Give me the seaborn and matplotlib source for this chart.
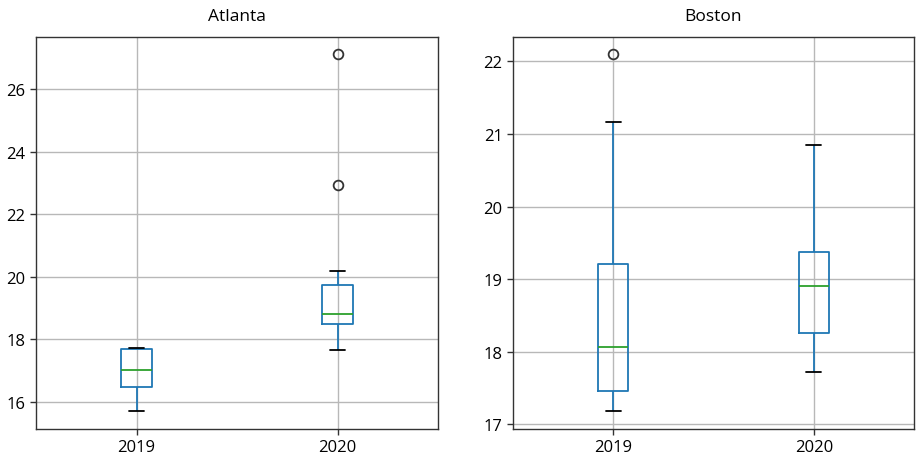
import matplotlib
matplotlib.use("Agg")
import matplotlib.pyplot as plt
import seaborn as sns
import pandas as pd

# 各城市各年份的温度值
atlanta_2019 = [15.71, 16.47, 17.02, 17.70, 17.73]
atlanta_2020 = [17.66, 18.05, 18.30, 18.49, 18.60, 18.70, 18.82,
                19.10, 19.50, 19.74, 20.19, 22.92, 27.12]
boston_2019 = [17.18, 17.30, 17.46, 17.80, 18.06, 18.60, 19.21, 21.16, 22.10]
boston_2020 = [17.72, 18.26, 18.91, 19.37, 20.85]

cities = ["Atlanta", "Boston"]
years = ["2019", "2020"]
values = {
    ("Atlanta", "2019"): atlanta_2019,
    ("Atlanta", "2020"): atlanta_2020,
    ("Boston", "2019"): boston_2019,
    ("Boston", "2020"): boston_2020,
}

rows = []
for (city, year), vals in values.items():
    for v in vals:
        rows.append({"city": city, "year": year, "temp": v})
df = pd.DataFrame(rows)

sns.set_style("white")
plt.rcParams["font.family"] = ["Open Sans", "DejaVu Sans"]
plt.rcParams["text.color"] = "black"
plt.rcParams["xtick.color"] = "black"
plt.rcParams["ytick.color"] = "black"

fig = plt.figure(figsize=(9.16, 4.56), dpi=100)
W, H = 916, 456
ax_boxes = [(36, 38, 402, 392), (513, 38, 401, 392)]
ylims = {"Atlanta": (15.14, 27.66), "Boston": (16.935, 22.335)}
yticks = {"Atlanta": [16, 18, 20, 22, 24, 26], "Boston": [17, 18, 19, 20, 21, 22]}

for city, (x0, y0, w, h) in zip(cities, ax_boxes):
    ax = fig.add_axes([x0 / W, 1 - (y0 + h) / H, w / W, h / H])
    sub = df[df["city"] == city]
    sns.boxplot(
        data=sub, x="year", y="temp", order=years, ax=ax,
        width=0.15, fill=False, color="#1f77b4", linewidth=1.3,
        boxprops=dict(color="#1f77b4"),
        whiskerprops=dict(color="#1f77b4"),
        capprops=dict(color="black"),
        medianprops=dict(color="#2ca02c"),
        flierprops=dict(marker="o", markerfacecolor="none",
                        markeredgecolor="#333333", markersize=7,
                        markeredgewidth=1.3),
    )
    ax.set_xlim(-0.5, 1.5)
    ax.set_ylim(*ylims[city])
    ax.set_yticks(yticks[city])
    ax.grid(True, color="#b8b8b8", linewidth=1)
    ax.set_axisbelow(True)
    ax.set_xlabel("")
    ax.set_ylabel("")
    ax.set_title(city, fontsize=12.5, pad=12, color="black")
    ax.tick_params(axis="both", labelsize=12, length=4, width=1,
                   color="#333333", labelcolor="black", left=True, bottom=True)
    for s in ax.spines.values():
        s.set_color("#333333")
        s.set_linewidth(1)

fig.savefig("out.png", dpi=100)
